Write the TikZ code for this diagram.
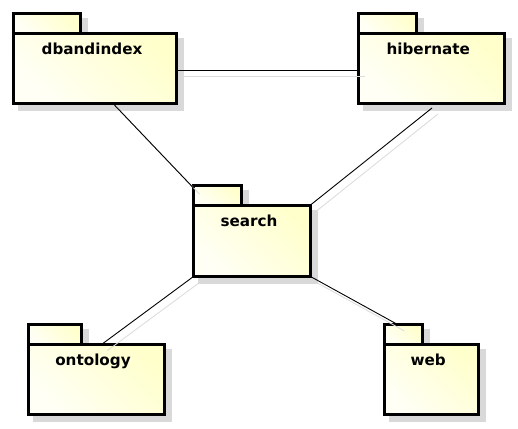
\documentclass[tikz,border=0pt]{standalone}
\usepackage{fontspec}
\setmainfont{DejaVu Sans}
\usetikzlibrary{fit,calc}
\definecolor{pkgyellow}{HTML}{FFFFCC}
\definecolor{pkgwhite}{HTML}{FFFFF6}
\definecolor{shadowgray}{HTML}{D9D9D9}
\definecolor{lineshadowgray}{HTML}{DDDDDD}
\tikzset{
  pkgshape/.style={draw=black, line width=3pt, top color=pkgyellow, bottom color=pkgwhite, shading angle=-45, inner sep=0pt, outer sep=0pt},
  pkgshadow/.style={fill=shadowgray, draw=shadowgray, line width=3pt},
  pkglabel/.style={font=\bfseries\fontsize{15.2}{18}\selectfont, anchor=base, inner sep=0pt},
  conn/.style={draw=black, line width=0.9pt},
  connshadow/.style={draw=lineshadowgray, line width=0.9pt, transform canvas={xshift=6pt, yshift=-6pt}},
}
\newcommand\umlpackage[8]{%
  \fill[pkgshadow] (#2+6,#3+6) rectangle (#4+6,#5+6);
  \fill[pkgshadow] (#2+6,#5+6) rectangle (#6+6,#7+6);
  \node[pkgshape, fit={(#2,#3) (#4,#5)}] (#1tab) {};
  \node[pkgshape, fit={(#2,#5) (#6,#7)}] (#1) {};
  \node[pkglabel] (#1label) at ([xshift=-3pt, yshift=-21pt]#1.north) {#8};
}
\newcommand\umlconnector[2]{%
  \draw[connshadow] #1 -- #2;
  \draw[conn] #1 -- #2;
}
\begin{document}
\begin{tikzpicture}[x=1pt, y=-1pt]
\useasboundingbox (0,0) rectangle (518,428);
\umlpackage{db}{13.5}{13.5}{80}{33.5}{176.5}{103.5}{dbandindex}
\umlpackage{hib}{358.5}{13.5}{416.5}{33.5}{504}{103.5}{hibernate}
\umlpackage{srch}{193.5}{185.5}{241}{205}{310.5}{276.5}{search}
\umlpackage{ont}{28}{324.5}{81.5}{344.5}{164}{414}{ontology}
\umlpackage{web}{384.5}{324.5}{422}{344.5}{478}{414}{web}
\umlconnector{([yshift=-1.5pt]db.east)}{([yshift=-1.5pt]hib.west)}
\umlconnector{([xshift=99.5pt]db.south west)}{([yshift=-2.5pt]srchtab.north west)}
\umlconnector{([xshift=73.5pt,yshift=-4.5pt]hib.south west)}{(srch.north east)}
\umlconnector{(srch.south west)}{([xshift=73.5pt]ont.north west)}
\umlconnector{(srch.south east)}{([xshift=14pt,yshift=-0.5pt]webtab.north west)}
\end{tikzpicture}
\end{document}
